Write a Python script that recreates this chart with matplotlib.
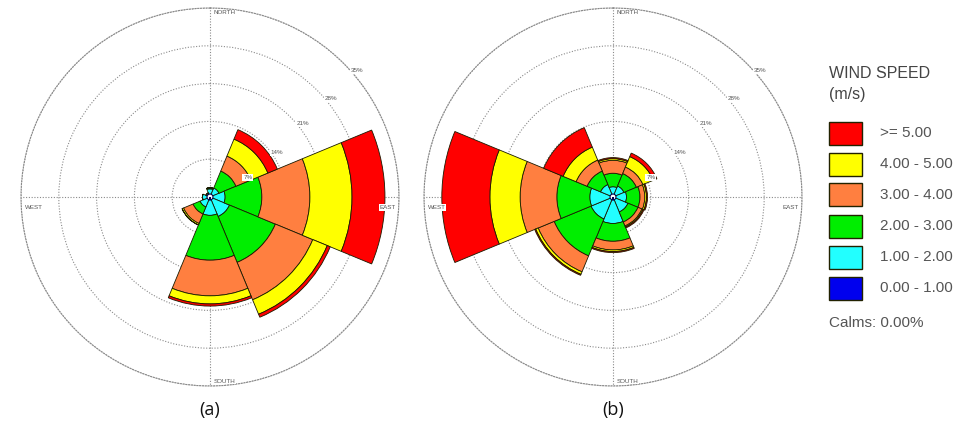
import matplotlib
matplotlib.use('Agg')
import matplotlib.pyplot as plt
import numpy as np

# Wind direction sectors (compass degrees, clockwise from north)
direction_deg = [0, 45, 90, 135, 180, 225, 270, 315]

# Speed classes, low to high
speed_labels = ['0.00 - 1.00', '1.00 - 2.00', '2.00 - 3.00',
                '3.00 - 4.00', '4.00 - 5.00', '>= 5.00']
speed_colors = ['#0000EE', '#22FFFF', '#00EE00', '#FF7F40', '#FFFF00', '#FF0000']

# Rose (a): frequency (%) per sector, N, NE, E, SE, S, SW, W, NW
a_0_1 = [0.5, 0.3, 0.3, 0.3, 0.3, 0.3, 0.5, 0.3]
a_1_2 = [1.0, 1.5, 2.5, 3.6, 3.1, 1.7, 0.9, 0.5]
a_2_3 = [0.2, 3.4, 6.8, 9.2, 8.3, 1.4, 0.0, 0.0]
a_3_4 = [0.0, 3.0, 8.9, 7.5, 6.6, 1.9, 0.0, 0.0]
a_4_5 = [0.0, 3.4, 7.8, 2.9, 1.5, 0.3, 0.0, 0.0]
a_5up = [0.0, 1.9, 6.1, 0.6, 0.4, 0.0, 0.0, 0.0]

# Rose (b)
b_0_1 = [0.4, 0.4, 0.4, 0.4, 0.4, 0.4, 0.4, 0.4]
b_1_2 = [1.5, 1.8, 2.1, 2.6, 4.5, 4.0, 3.9, 2.1]
b_2_3 = [2.5, 2.5, 2.5, 2.0, 3.3, 7.4, 6.1, 2.7]
b_3_4 = [2.4, 1.3, 0.9, 0.8, 1.6, 3.2, 6.8, 2.2]
b_4_5 = [0.3, 2.1, 0.3, 0.2, 0.3, 0.5, 5.6, 2.6]
b_5up = [0.2, 0.7, 0.2, 0.2, 0.2, 0.2, 8.9, 3.9]

rings = [7, 14, 21, 28, 35]
ring_labels = ['7%', '14%', '21%', '28%', '35%']
calms_text = 'Calms: 0.00%'

W, H = 967, 430
fig = plt.figure(figsize=(W / 100, H / 100), dpi=100)
fig.patch.set_facecolor('white')

grid_color = '#8a8a8a'
label_font = 'Liberation Sans'


def draw_rose(cx, cy, radius, classes, tag):
    ax = fig.add_axes([(cx - radius) / W, 1 - (cy + radius) / H,
                       2 * radius / W, 2 * radius / H], projection='polar')
    ax.set_theta_zero_location('N')
    ax.set_theta_direction(-1)
    ax.set_ylim(0, rings[-1])
    ax.set_axisbelow(True)

    theta = np.deg2rad(direction_deg)
    width = np.deg2rad(45)
    bottom = np.zeros(len(direction_deg))
    for vals, col in zip(classes, speed_colors):
        vals = np.asarray(vals)
        ax.bar(theta, vals, width=width, bottom=bottom, color=col,
               edgecolor='#1a1a00', linewidth=0.6, zorder=2)
        bottom = bottom + vals

    # calm circle in the middle
    ax.bar(0, 0.55, width=2 * np.pi, bottom=0, color='white',
           edgecolor='#000050', linewidth=0.8, zorder=3)

    # dotted rings and cross
    ax.set_rticks(rings)
    ax.set_yticklabels([])
    ax.set_xticks(np.deg2rad([0, 90, 180, 270]))
    ax.set_xticklabels([])
    ax.grid(True, color=grid_color, linestyle=(0, (1, 1.5)), linewidth=0.8)
    ax.spines['polar'].set_linestyle((0, (1, 1.5)))
    ax.spines['polar'].set_color(grid_color)
    ax.spines['polar'].set_linewidth(0.8)
    ax.tick_params(length=0, pad=0)

    # ring percentages with white boxes
    label_angles = [62.8, 56.1, 51.5, 50.7, 49.4]
    for r, txt, ang in zip(rings, ring_labels, label_angles):
        ax.text(np.deg2rad(ang), r + 0.9, txt, fontsize=4.5, color='#555555',
                ha='center', va='center', family=label_font, zorder=5,
                bbox=dict(boxstyle='square,pad=0.15', fc='white', ec='none'))

    # compass labels, sitting just inside the outer ring
    rmax = rings[-1]
    kw = dict(fontsize=4.5, color='#555555', family=label_font, zorder=5,
              bbox=dict(boxstyle='square,pad=0.12', fc='white', ec='none'))
    ax.text(np.deg2rad(1.0), rmax - 0.9, 'NORTH', ha='left', va='center', **kw)
    ax.text(np.deg2rad(179.0), rmax - 0.9, 'SOUTH', ha='left', va='center', **kw)
    ax.text(np.deg2rad(266.8), rmax - 0.6, 'WEST', ha='left', va='center', **kw)
    ax.text(np.deg2rad(93.2), rmax - 0.5, 'EAST', ha='right', va='center', **kw)

    fig.text(cx / W, 1 - 410 / H, tag, fontsize=13, ha='center', va='center',
             family='Open Sans', color='#111111')
    return ax


draw_rose(210, 197, 189, [a_0_1, a_1_2, a_2_3, a_3_4, a_4_5, a_5up], '(a)')
draw_rose(613, 197, 189, [b_0_1, b_1_2, b_2_3, b_3_4, b_4_5, b_5up], '(b)')

# legend
legend_x = 829
fig.text(legend_x / W, 1 - 74 / H, 'WIND SPEED', fontsize=11.5, color='#444444',
         family=label_font, va='center', ha='left')
fig.text(legend_x / W, 1 - 95 / H, '(m/s)', fontsize=11.5, color='#444444',
         family=label_font, va='center', ha='left')
row_y = [133, 164, 195, 226, 257, 288]
for y, lab, col in zip(row_y, speed_labels[::-1], speed_colors[::-1]):
    box = plt.Rectangle((legend_x / W, 1 - (y + 11.5) / H), 33 / W, 23 / H,
                        transform=fig.transFigure, facecolor=col,
                        edgecolor='#222200', linewidth=1.0)
    fig.add_artist(box)
    fig.text((legend_x + 51) / W, 1 - y / H, lab, fontsize=11, color='#555555',
             family=label_font, va='center', ha='left')
fig.text(legend_x / W, 1 - 323 / H, calms_text, fontsize=11, color='#555555',
         family=label_font, va='center', ha='left')

fig.savefig('out.png', dpi=100)
